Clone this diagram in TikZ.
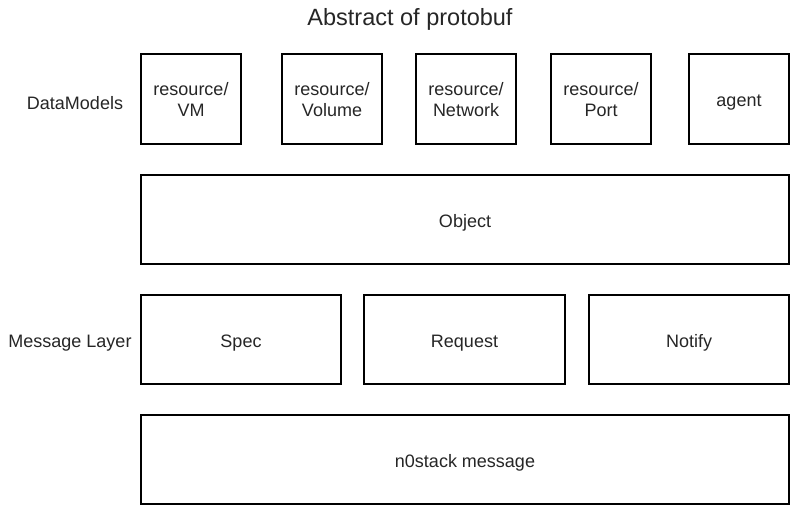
\documentclass[tikz,border=0pt]{standalone}
\usepackage{fontspec}
\setmainfont{Liberation Sans}
\begin{document}
\begin{tikzpicture}[x=1pt,y=-1pt,
  txt/.style={inner sep=0pt, align=center, font=\fontsize{18}{21}\selectfont, text=black!85},
  box/.style={draw=black, line width=1.2pt, fill=white, inner sep=0pt},
  btxt/.style={txt, yshift=-3.5pt},
  btxttwo/.style={txt, yshift=-0.5pt},
  ttl/.style={inner sep=0pt, font=\fontsize{23.5}{27}\selectfont, text=black!85}]
\useasboundingbox (0,0) rectangle (791,505);
\fill[white] (0,0) rectangle (791,505);
\node[ttl] (title) at (410,19) {Abstract of protobuf};
\node[txt] (dm) at (75,103.5) {DataModels};
\node[txt] (ml) at (70,343.5) {Message Layer};
\node[box, minimum width=100pt, minimum height=90pt] (vm) at (191,99) {};
\node[box, minimum width=100pt, minimum height=90pt] (vol) at (332,99) {};
\node[box, minimum width=100pt, minimum height=90pt] (net) at (466,99) {};
\node[box, minimum width=100pt, minimum height=90pt] (port) at (601,99) {};
\node[box, minimum width=100pt, minimum height=90pt] (agent) at (739,99) {};
\node[box, minimum width=648pt, minimum height=89pt] (obj) at (465,219.5) {};
\node[box, minimum width=200pt, minimum height=89pt] (spec) at (241,339.5) {};
\node[box, minimum width=201pt, minimum height=89pt] (req) at (464.5,339.5) {};
\node[box, minimum width=200pt, minimum height=89pt] (ntf) at (689,339.5) {};
\node[box, minimum width=648pt, minimum height=89pt] (msg) at (465,459.5) {};
\node[btxttwo] (vmt) at (vm.center) {resource/\\VM};
\node[btxttwo] (volt) at (vol.center) {resource/\\Volume};
\node[btxttwo] (nett) at (net.center) {resource/\\Network};
\node[btxttwo] (portt) at (port.center) {resource/\\Port};
\node[btxt] (agentt) at (agent.center) {agent};
\node[btxt] (objt) at (obj.center) {Object};
\node[btxt] (spect) at (spec.center) {Spec};
\node[btxt] (reqt) at (req.center) {Request};
\node[btxt] (ntft) at (ntf.center) {Notify};
\node[btxt] (msgt) at (msg.center) {n0stack message};
\end{tikzpicture}
\end{document}
